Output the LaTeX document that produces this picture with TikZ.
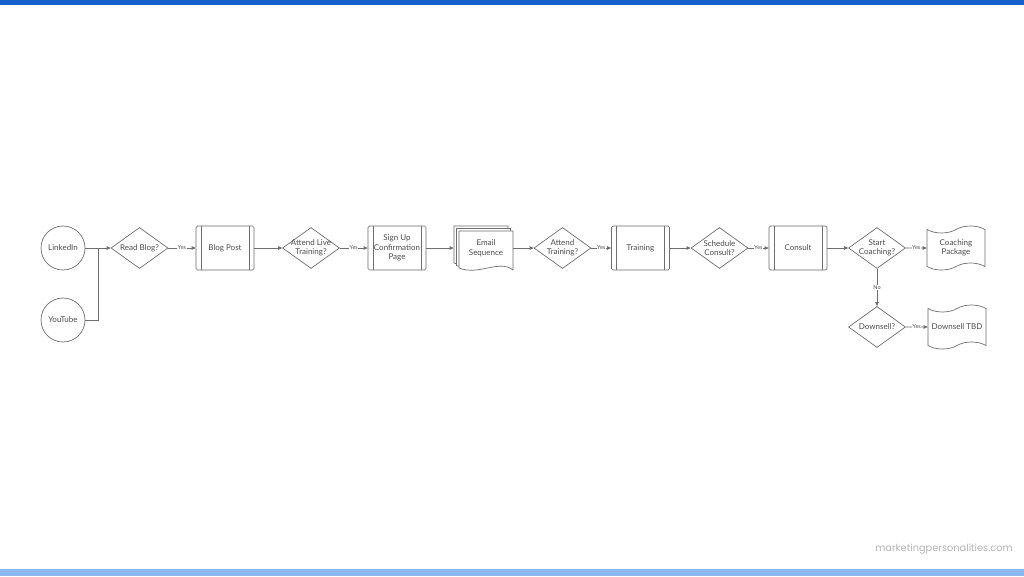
\documentclass[tikz,border=0pt]{standalone}
\usepackage{fontspec}
\setmainfont{Lato}
\newfontfamily\wmfont{Poppins}
\usetikzlibrary{shapes.geometric, shapes.symbols, arrows.meta}

\definecolor{linegray}{HTML}{6E6E6E}
\definecolor{textgray}{HTML}{4C4C4C}
\definecolor{topblue}{HTML}{1660CF}
\definecolor{botblue}{HTML}{8DB8F2}
\definecolor{wmgray}{HTML}{B4B4B4}

\tikzset{
  flow/.style={draw=linegray, line width=0.7pt, font=\fontsize{8}{9.5}\selectfont, text=textgray, align=center},
  source/.style={flow, circle, minimum size=44pt, inner sep=0pt},
  decision/.style={flow, diamond, minimum width=57pt, minimum height=41pt, inner sep=0pt},
  process/.style={flow, rectangle, rounded corners=1.5pt, minimum width=58pt, minimum height=44pt, inner sep=1pt,
    path picture={\draw[linegray, line width=0.7pt]
      ([xshift=5pt]path picture bounding box.north west) -- ([xshift=5pt]path picture bounding box.south west)
      ([xshift=-5pt]path picture bounding box.north east) -- ([xshift=-5pt]path picture bounding box.south east);}},
  papertape/.style={flow, tape, tape bend top=in and out, tape bend bottom=in and out, tape bend height=7pt,
    minimum width=58pt, minimum height=44pt, inner sep=1pt},
  every label/.style={font=\fontsize{8}{9.5}\selectfont, text=textgray, align=center},
  link/.style={draw=linegray, line width=0.7pt},
  arrow/.style={link, -{Triangle[length=4pt, width=3.5pt]}},
  yes/.style={fill=white, font=\fontsize{5.5}{6.5}\selectfont, text=textgray, inner sep=0.6pt}
}

\newcommand{\docpath}[4]{(#1,#2) -- (#3,#2) -- (#3,#4+2) .. controls (#3-14,#4-9) and (#1+20,#4+8) .. (#1,#4) -- cycle}

\begin{document}
\begin{tikzpicture}[x=1pt, y=-1pt]
\useasboundingbox (0,0) rectangle (1024,576);
\fill[white] (0,0) rectangle (1024,576);
\fill[topblue] (0,0) rectangle (1024,5);
\fill[botblue] (0,569) rectangle (1024,576);

% entry points
\node[source] (linkedin) at (63,248) {LinkedIn};
\node[source] (youtube) at (63,320) {YouTube};
\coordinate (join) at (98,248);

% main row
\node[decision, label=center:Read Blog?] (read) at (139.5,248) {};
\node[process] (blog) at (225,248) {Blog Post};
\node[decision, label=center:{Attend Live\\Training?}] (live) at (311,248) {};
\node[process] (signup) at (397,248) {Sign Up\\Confirmation\\Page};

% stacked email documents
\draw[link, fill=white] \docpath{454}{226}{508}{263};
\draw[link, fill=white] \docpath{456.5}{228.5}{510.5}{265.5};
\draw[link, fill=white] \docpath{459}{231}{513}{268};
\node[flow, draw=none, minimum width=54pt, minimum height=37pt] (email) at (486,248) {Email\\Sequence};

\node[decision, label=center:{Attend\\Training?}] (attend) at (562.5,248) {};
\node[process] (training) at (640.5,248) {Training};
\node[decision, label=center:{Schedule\\Consult?}] (schedule) at (719.5,248) {};
\node[process] (consult) at (798,248) {Consult};
\node[decision, label=center:{Start\\Coaching?}] (coach) at (877,248) {};
\node[papertape] (package) at (956,248) {Coaching\\Package};

% downsell branch
\node[decision, label=center:Downsell?] (downsell) at (877,327) {};
\node[papertape] (tbd) at (957,327) {Downsell TBD};

% connectors
\draw[arrow] (linkedin) -- (read);
\draw[link] (youtube.east) -| (join);
\draw[arrow] (read) -- node[yes] {Yes} (blog);
\draw[arrow] (blog) -- (live);
\draw[arrow] (live) -- node[yes] {Yes} (signup);
\draw[arrow] (signup.east) -- ([xshift=-5pt]email.west);
\draw[arrow] (email.east) -- (attend);
\draw[arrow] (attend) -- node[yes] {Yes} (training);
\draw[arrow] (training) -- (schedule);
\draw[arrow] (schedule) -- node[yes] {Yes} (consult);
\draw[arrow] (consult) -- (coach);
\draw[arrow] (coach) -- node[yes] {Yes} (package);
\draw[arrow] (coach) -- node[yes] {No} (downsell);
\draw[arrow] (downsell) -- node[yes] {Yes} (tbd);

\node[font=\wmfont\fontsize{9.8}{11}\selectfont, text=wmgray] (site) at (944,549) {marketingpersonalities.com};
\end{tikzpicture}
\end{document}
